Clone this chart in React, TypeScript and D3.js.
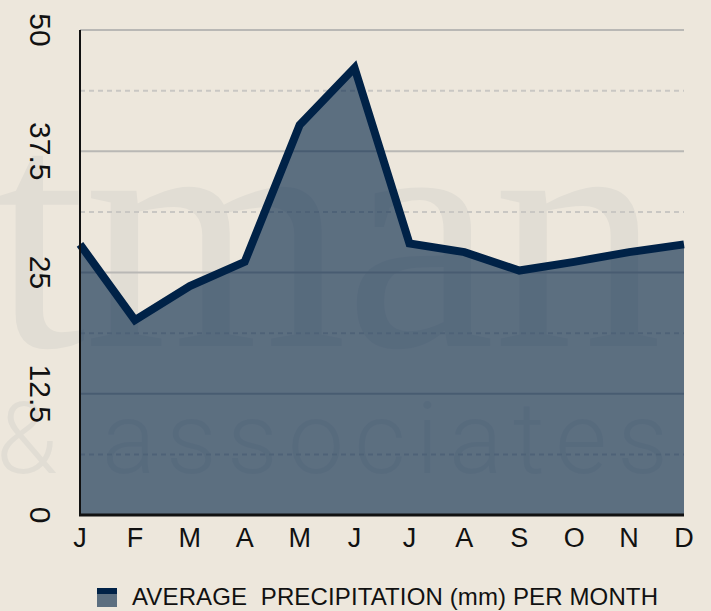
import React from "react";
import * as d3 from "d3";

const months = ["J", "F", "M", "A", "M", "J", "J", "A", "S", "O", "N", "D"];
const precipitation = [27.9, 20.1, 23.6, 26.1, 40.2, 46.1, 28.0, 27.1, 25.2, 26.1, 27.1, 27.9];
const majorTicks = [0, 12.5, 25, 37.5, 50];
const minorTicks = [6.25, 18.75, 31.25, 43.75];
const legendLabel = "AVERAGE  PRECIPITATION (mm) PER MONTH";

const width = 711;
const height = 611;
const margin = { top: 30, right: 27, bottom: 96, left: 80 };

const bg = "#ede7dc";
const navy = "#002247";

export default function App() {
  const x = d3
    .scalePoint<number>()
    .domain(d3.range(months.length))
    .range([margin.left, width - margin.right]);
  const y = d3
    .scaleLinear()
    .domain([0, 50])
    .range([height - margin.bottom, margin.top]);

  const area = d3
    .area<number>()
    .x((d, i) => x(i) as number)
    .y0(y(0))
    .y1((d) => y(d));
  const line = d3
    .line<number>()
    .x((d, i) => x(i) as number)
    .y((d) => y(d));

  const x0 = margin.left;
  const x1 = width - margin.right;

  return (
    <svg
      width={width}
      height={height}
      style={{ position: "absolute", left: 0, top: 0, fontFamily: "Liberation Sans, Arial, sans-serif" }}
    >
      <rect width={width} height={height} fill={bg} />

      {/* watermark */}
      <g fill="#e1ddd4">
        <text x={-8} y={346} fontFamily="Liberation Serif, serif" fontSize={338} textLength={670}>
          tman
        </text>
        <text x={-4} y={473} fontFamily="Roboto, sans-serif" fontWeight={300} fontSize={100}>
          &amp;
        </text>
        <text
          x={102}
          y={473}
          fontFamily="Roboto, sans-serif"
          fontWeight={300}
          fontSize={100}
          textLength={566}
        >
          associates
        </text>
      </g>

      {/* grid */}
      {majorTicks.slice(1).map((t) => (
        <line key={"M" + t} x1={x0} x2={x1} y1={y(t)} y2={y(t)} stroke="#b9b8b5" strokeWidth={2} />
      ))}
      {minorTicks.map((t) => (
        <line
          key={"m" + t}
          x1={x0}
          x2={x1}
          y1={y(t)}
          y2={y(t)}
          stroke="#c9c7c3"
          strokeWidth={2}
          strokeDasharray="5 4"
        />
      ))}

      <path d={area(precipitation) ?? ""} fill={navy} fillOpacity={0.61} />
      <path d={line(precipitation) ?? ""} fill="none" stroke={navy} strokeWidth={8} strokeLinejoin="miter" />

      {/* axes */}
      <line x1={x0} x2={x0} y1={y(50)} y2={y(0)} stroke="#111" strokeWidth={2} />
      <line x1={x0 - 1} x2={x1} y1={y(0)} y2={y(0)} stroke="#111" strokeWidth={3} />

      {majorTicks.map((t) => (
        <text
          key={"yl" + t}
          transform={`translate(40,${y(t)}) rotate(90)`}
          textAnchor="middle"
          dominantBaseline="central"
          fontSize={30}
          fill="#111"
        >
          {t}
        </text>
      ))}

      {months.map((m, i) => (
        <text
          key={"xl" + i}
          x={x(i)}
          y={547}
          textAnchor="middle"
          fontSize={27}
          fill="#111"
        >
          {m}
        </text>
      ))}

      {/* legend */}
      <rect x={97} y={588} width={20} height={19} fill={navy} fillOpacity={0.61} />
      <rect x={97} y={588} width={20} height={6} fill={navy} />
      <text
        x={132}
        y={605}
        fontSize={24}
        fill="#111"
        textLength={526}
        style={{ whiteSpace: "pre" }}
      >
        {legendLabel}
      </text>
    </svg>
  );
}
